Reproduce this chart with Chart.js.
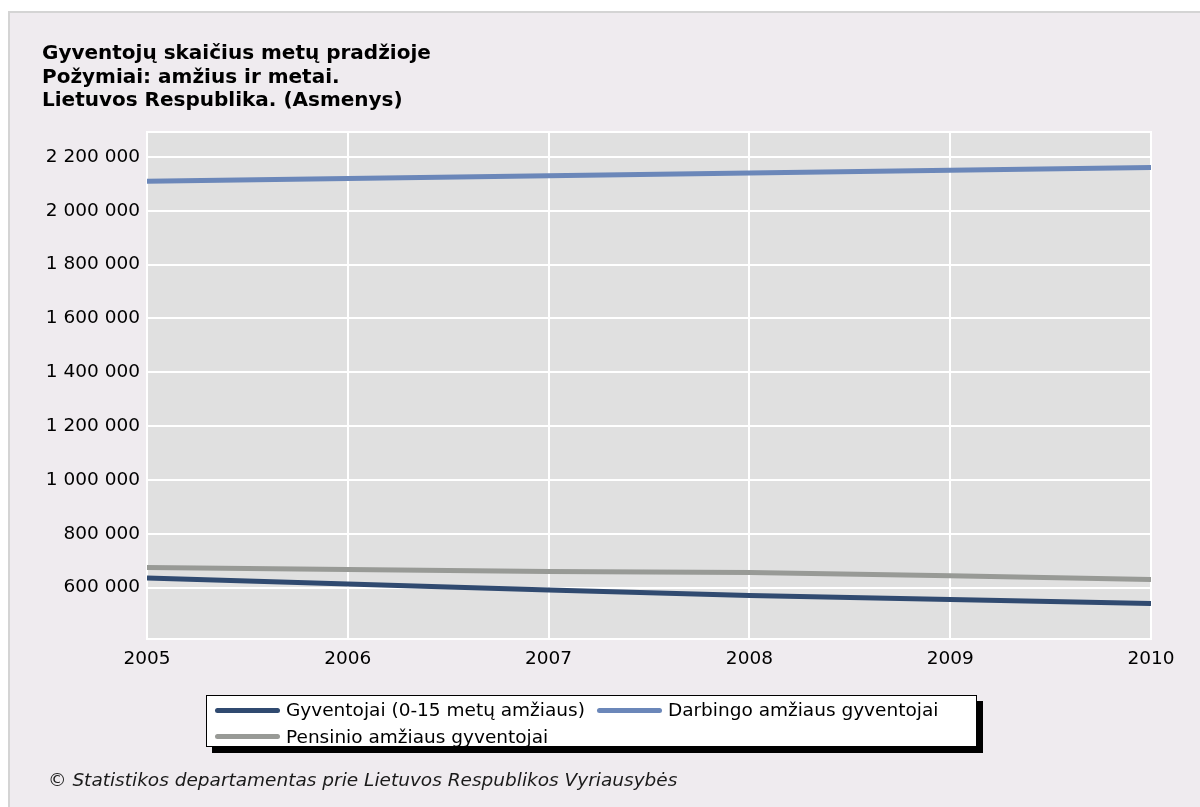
<!DOCTYPE html>
<html lang="lt">
<head>
<meta charset="utf-8">
<title>Gyventojų skaičius metų pradžioje</title>
<script src="https://cdn.jsdelivr.net/npm/chart.js@4/dist/chart.umd.min.js"></script>
<style>
  html, body { margin: 0; padding: 0; background: #fff; }
  body { width: 1200px; height: 807px; position: relative; overflow: hidden; font-family: "DejaVu Sans", sans-serif; }
  #panel { position: absolute; left: 8px; top: 11px; width: 1192px; height: 796px; background: #efebef; border-left: 2px solid #d4d4d4; border-top: 2px solid #d4d4d4; box-sizing: border-box; }
  #chart { position: absolute; left: 0; top: 0; }
  #title { position: absolute; left: 42px; top: 41px; font-weight: bold; font-size: 20px; line-height: 23.5px; color: #000; }
  #legend { position: absolute; left: 206px; top: 695px; width: 771px; height: 52px; border: 1px solid #000; background: #fff; box-shadow: 6px 6px 0 #000; padding: 1px 0 0 8px; box-sizing: border-box; display: flex; flex-wrap: wrap; align-content: flex-start; column-gap: 12px; font-size: 18.5px; line-height: 26.6px; }
  #legend .item { display: inline-flex; align-items: center; height: 26.6px; }
  #legend .swatch { width: 65px; height: 5px; border-radius: 3px; margin-right: 6px; }
  #footer { position: absolute; left: 48px; top: 771px; font-size: 18.5px; font-style: italic; line-height: 1; color: #1a1a1a; }
</style>
</head>
<body>
<div id="panel"></div>
<canvas id="chart" width="1200" height="807"></canvas>
<div id="title">Gyventojų skaičius metų pradžioje<br>Požymiai: amžius ir metai.<br>Lietuvos Respublika. (Asmenys)</div>
<div id="legend"></div>
<div id="footer">© Statistikos departamentas prie Lietuvos Respublikos Vyriausybės</div>
<script>
// values
const years = [2005, 2006, 2007, 2008, 2009, 2010];
const children = [635300, 613000, 590700, 570200, 555400, 540500];
const working = [2109600, 2120000, 2130100, 2140500, 2150500, 2160900];
const pension = [674400, 667000, 659500, 655800, 643900, 629800];
const yTicks = [600000, 800000, 1000000, 1200000, 1400000, 1600000, 1800000, 2000000, 2200000];
const seriesNames = ['Gyventojai (0-15 metų amžiaus)', 'Darbingo amžiaus gyventojai', 'Pensinio amžiaus gyventojai'];
const seriesColors = ['#304a70', '#6b87b9', '#989a96'];

const tickFont = { family: 'DejaVu Sans', size: 18.5 };

function spaced(v) {
  return String(v).replace(/\B(?=(\d{3})+(?!\d))/g, ' ');
}

// grey plot area with a white frame, like the original
const plotBg = {
  id: 'plotBg',
  beforeDraw(chart) {
    const { ctx, chartArea: a } = chart;
    ctx.save();
    ctx.fillStyle = '#e0e0e0';
    ctx.fillRect(a.left, a.top, a.width, a.height);
    ctx.restore();
  },
  beforeDatasetsDraw(chart) {
    const { ctx, chartArea: a } = chart;
    ctx.save();
    ctx.strokeStyle = '#ffffff';
    ctx.lineWidth = 2;
    ctx.strokeRect(a.left, a.top, a.width, a.height);
    ctx.restore();
  }
};

const seriesValues = [children, working, pension];

new Chart(document.getElementById('chart'), {
  type: 'line',
  data: {
    datasets: seriesValues.map((vals, i) => ({
      label: seriesNames[i],
      data: years.map((x, j) => ({ x: x, y: vals[j] })),
      borderColor: seriesColors[i],
      borderWidth: 5,
      pointRadius: 0,
      tension: 0,
      fill: false
    }))
  },
  options: {
    responsive: false,
    devicePixelRatio: 1,
    animation: false,
    layout: { padding: { top: 132, right: 49, bottom: 128, left: 0 } },
    plugins: {
      legend: { display: false },
      tooltip: { enabled: false }
    },
    scales: {
      x: {
        type: 'linear',
        min: 2005,
        max: 2010,
        afterFit: axis => { axis.height = 40; },
        grid: { color: '#ffffff', lineWidth: 2, drawTicks: false },
        border: { display: false },
        ticks: { stepSize: 1, padding: 9, color: '#000', font: tickFont, maxRotation: 0, callback: v => String(v) }
      },
      y: {
        min: 408800,
        max: 2293000,
        afterFit: axis => { axis.width = 147; },
        afterBuildTicks: axis => { axis.ticks = yTicks.map(v => ({ value: v })); },
        grid: { color: '#ffffff', lineWidth: 2, drawTicks: false },
        border: { display: false },
        ticks: { padding: 7, color: '#000', font: tickFont, callback: v => spaced(v) }
      }
    }
  },
  plugins: [plotBg]
});

// boxed legend with shadow, built from the series names
const legendBox = document.getElementById('legend');
seriesNames.forEach((name, i) => {
  const item = document.createElement('span');
  item.className = 'item';
  item.innerHTML = `<span class="swatch" style="background:${seriesColors[i]}"></span><span>${name}</span>`;
  legendBox.appendChild(item);
});
</script>
</body>
</html>
